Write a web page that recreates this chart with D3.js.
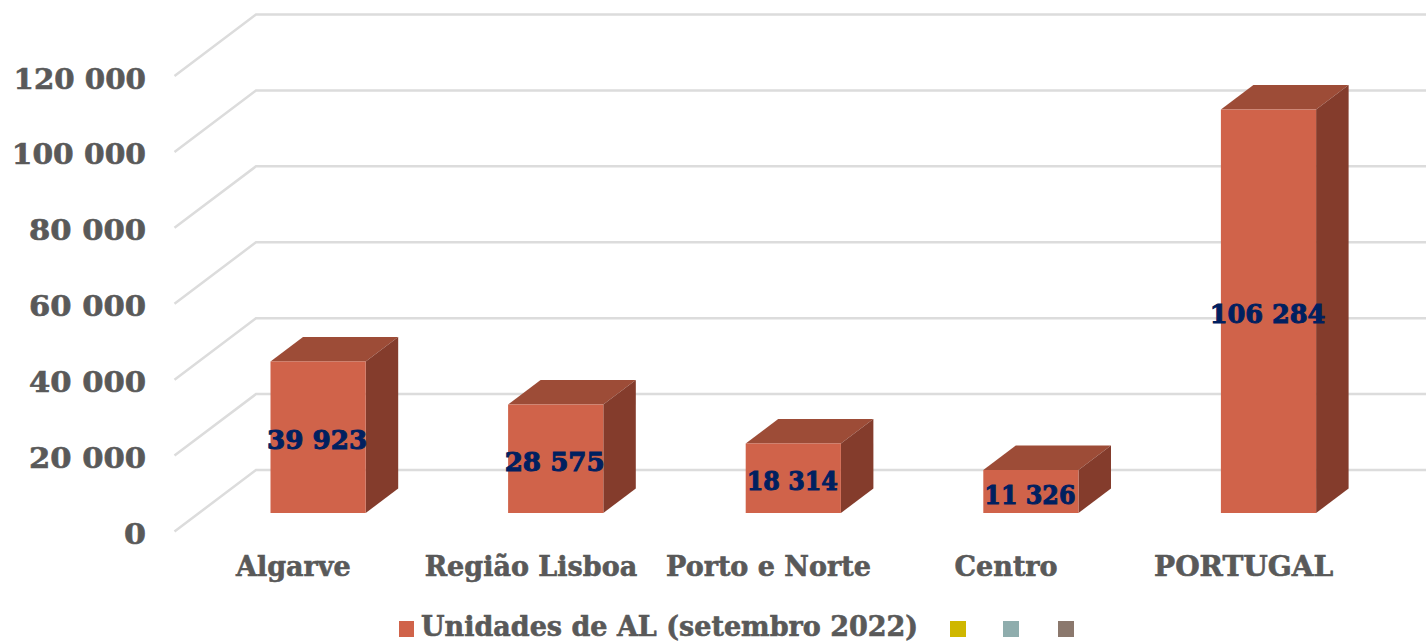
<!DOCTYPE html>
<html><head><meta charset="utf-8">
<script src="https://cdn.jsdelivr.net/npm/d3@7"></script>
<style>
html,body{margin:0;padding:0;background:#fff}
svg{display:block}
text{font-family:"DejaVu Serif","Liberation Serif",serif;font-weight:700;paint-order:stroke;stroke-width:.6px}
</style></head><body>
<script>
const categories = ["Algarve","Região Lisboa","Porto e Norte","Centro","PORTUGAL"];
const values = [39923,28575,18314,11326,106284];
const tickValues = [0,20000,40000,60000,80000,100000,120000];
const seriesName = "Unidades de AL (setembro 2022)";
const legendExtra = ["#cfb700","#8fadad","#8b786d"];

const W=1426,H=641;
const fmt=v=>d3.format(",")(v).replace(/,/g," ");
// advance of the old-style digits in the reference's typeface
const numWidth=s=>d3.sum(Array.from(s),ch=>ch===" "?8:ch==="1"?14:ch==="0"?20:18.4);
const svg=d3.select("body").append("svg").attr("width",W).attr("height",H);

const y=d3.scaleLinear().domain([0,120000]).range([470,14.5]);   // back wall
const x=d3.scaleBand().domain(categories).range([175,1363]);
const wallDx=81.5,wallDy=61.5;
const barDx=32.5,barDy=24.5,barW=95.2;
const barBase=43;
const barLeft=c=>x(c)+x.bandwidth()/2-23.3;

const g=svg.append("g").attr("fill","none").attr("stroke","#dcdcdc").attr("stroke-width",2.5);
tickValues.forEach(t=>{
  g.append("path").attr("d",`M${174.5},${y(t)+wallDy}L${174.5+wallDx},${y(t)}H${W}`);
});

svg.append("g").selectAll("text").data(tickValues).join("text")
  .attr("x",146).attr("y",t=>y(t)+wallDy+12.5).attr("text-anchor","end")
  .attr("font-size",27).attr("fill","#595959").attr("stroke","#595959")
  .attr("textLength",t=>numWidth(fmt(t))*1.1).attr("lengthAdjust","spacingAndGlyphs")
  .text(fmt);

const rows=categories.map((c,i)=>({c,v:values[i]}));
const b=svg.append("g").selectAll("g").data(rows).join("g");
b.append("path").attr("fill","#9d4c37").attr("d",d=>{
  const l=barLeft(d.c),t=y(d.v)+barBase;
  return `M${l},${t}L${l+barDx},${t-barDy}H${l+barW+barDx}L${l+barW},${t}Z`;});
b.append("path").attr("fill","#843c2c").attr("d",d=>{
  const l=barLeft(d.c)+barW,t=y(d.v)+barBase,bt=y(0)+barBase;
  return `M${l},${t}L${l+barDx},${t-barDy}V${bt-barDy}L${l},${bt}Z`;});
b.append("rect").attr("fill","#d0634a")
  .attr("x",d=>barLeft(d.c)).attr("y",d=>y(d.v)+barBase)
  .attr("width",barW).attr("height",d=>y(0)-y(d.v));
b.append("text").attr("text-anchor","middle").attr("fill","#002060").attr("stroke","#002060").attr("font-size",26)
  .style("stroke-width","1px")
  .attr("x",d=>barLeft(d.c)+barW/2-1)
  .attr("y",d=>(y(d.v)+y(0))/2+barBase+12)
  .attr("textLength",d=>numWidth(fmt(d.v))).attr("lengthAdjust","spacingAndGlyphs")
  .text(d=>fmt(d.v));

svg.append("g").selectAll("text").data(categories).join("text")
  .attr("x",c=>x(c)+x.bandwidth()/2-0.5).attr("y",576).attr("text-anchor","middle")
  .attr("font-size",27).attr("fill","#595959").attr("stroke","#595959")
  .text(c=>c)
  .each(function(c){ if(c===c.toUpperCase()){
    d3.select(this).attr("textLength",this.getComputedTextLength()*1.04).attr("lengthAdjust","spacingAndGlyphs");
  }});

svg.append("rect").attr("x",399).attr("y",621).attr("width",15).attr("height",16).attr("fill","#d0634a");
svg.append("text").attr("x",421).attr("y",636).attr("font-size",27).attr("fill","#595959").attr("stroke","#595959").text(seriesName);
svg.append("g").selectAll("rect").data(legendExtra).join("rect")
  .attr("x",(d,i)=>[950,1003,1058][i]).attr("y",621).attr("width",16).attr("height",16).attr("fill",d=>d);
</script>
</body></html>
